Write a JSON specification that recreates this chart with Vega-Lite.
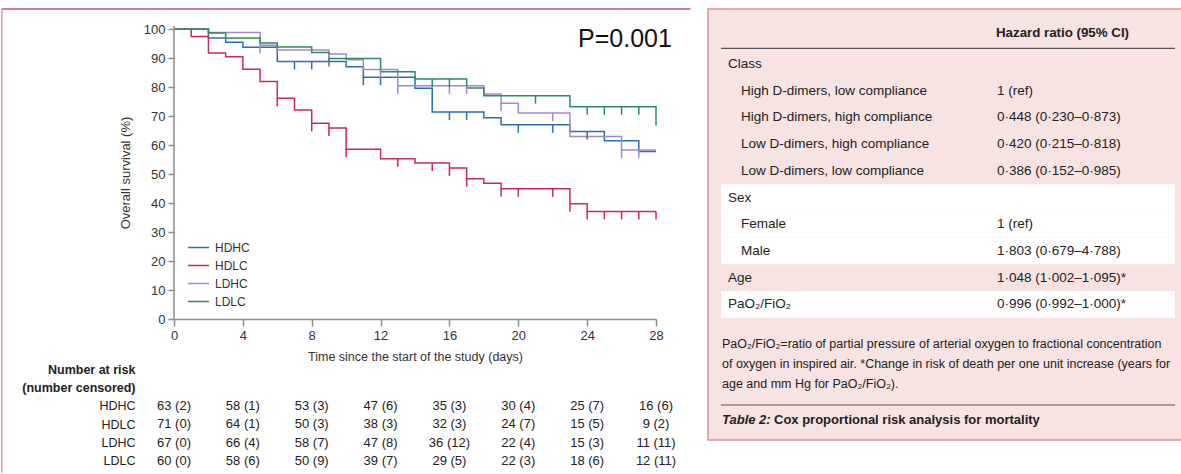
{
 "$schema": "https://vega.github.io/schema/vega-lite/v6.json",
 "padding": {"left": 1, "top": 8, "right": 0, "bottom": 0},
 "background": "white",
 "config": {
  "font": "Liberation Sans",
  "view": {"stroke": null},
  "axis": {"grid": false, "labelFlush": false, "labelOverlap": false, "labelColor": "#333", "titleColor": "#333", "domainColor": "#8c8c8c", "tickColor": "#8c8c8c", "domainWidth": 1.5, "tickWidth": 1.5, "labelFontSize": 13, "titleFontSize": 13, "titleFontWeight": "normal", "labelFont": "Liberation Sans", "titleFont": "Liberation Sans"},
  "legend": {"labelFont": "Liberation Sans"}
 },
 "datasets": {
  "km": [
   {"group":"HDHC","day":0,"surv":100},{"group":"HDHC","day":2,"surv":96.9},{"group":"HDHC","day":3,"surv":95.4},{"group":"HDHC","day":4,"surv":93.7},{"group":"HDHC","day":6,"surv":88.8},{"group":"HDHC","day":10,"surv":87.0},{"group":"HDHC","day":11,"surv":83.4},{"group":"HDHC","day":14,"surv":79.6},{"group":"HDHC","day":15,"surv":71.4},{"group":"HDHC","day":18,"surv":69.4},{"group":"HDHC","day":19,"surv":67.0},{"group":"HDHC","day":23,"surv":64.7},{"group":"HDHC","day":25,"surv":61.5},{"group":"HDHC","day":27,"surv":57.8},{"group":"HDHC","day":28,"surv":57.8},
   {"group":"HDLC","day":0,"surv":100},{"group":"HDLC","day":1,"surv":97.4},{"group":"HDLC","day":2,"surv":91.7},{"group":"HDLC","day":3,"surv":90.4},{"group":"HDLC","day":4,"surv":86.1},{"group":"HDLC","day":5,"surv":81.9},{"group":"HDLC","day":6,"surv":76.1},{"group":"HDLC","day":7,"surv":72.1},{"group":"HDLC","day":8,"surv":67.5},{"group":"HDLC","day":9,"surv":65.9},{"group":"HDLC","day":10,"surv":58.5},{"group":"HDLC","day":12,"surv":55.3},{"group":"HDLC","day":14,"surv":53.8},{"group":"HDLC","day":16,"surv":52.1},{"group":"HDLC","day":17,"surv":48.4},{"group":"HDLC","day":18,"surv":46.8},{"group":"HDLC","day":19,"surv":44.9},{"group":"HDLC","day":23,"surv":39.7},{"group":"HDLC","day":24,"surv":37.1},{"group":"HDLC","day":28,"surv":37.1},
   {"group":"LDHC","day":0,"surv":100},{"group":"LDHC","day":2,"surv":98.8},{"group":"LDHC","day":5,"surv":94.4},{"group":"LDHC","day":6,"surv":92.8},{"group":"LDHC","day":9,"surv":91.4},{"group":"LDHC","day":10,"surv":89.4},{"group":"LDHC","day":11,"surv":86.0},{"group":"LDHC","day":13,"surv":80.4},{"group":"LDHC","day":18,"surv":77.6},{"group":"LDHC","day":19,"surv":74.4},{"group":"LDHC","day":20,"surv":71.0},{"group":"LDHC","day":23,"surv":62.9},{"group":"LDHC","day":26,"surv":58.3},{"group":"LDHC","day":28,"surv":58.3},
   {"group":"LDLC","day":0,"surv":100},{"group":"LDLC","day":2,"surv":98.6},{"group":"LDLC","day":3,"surv":96.9},{"group":"LDLC","day":5,"surv":95.2},{"group":"LDLC","day":6,"surv":93.8},{"group":"LDLC","day":8,"surv":91.9},{"group":"LDLC","day":9,"surv":89.8},{"group":"LDLC","day":12,"surv":85.3},{"group":"LDLC","day":14,"surv":82.8},{"group":"LDLC","day":17,"surv":79.7},{"group":"LDLC","day":18,"surv":77.0},{"group":"LDLC","day":23,"surv":73.2},{"group":"LDLC","day":28,"surv":73.2},{"group":"LDLC","day":28,"surv":66.7}
  ],
  "censor": [
   {"group":"HDHC","day":7,"surv":88.8},{"group":"HDHC","day":8,"surv":88.8},{"group":"HDHC","day":11,"surv":83.4},{"group":"HDHC","day":12,"surv":83.4},{"group":"HDHC","day":16,"surv":71.4},{"group":"HDHC","day":17,"surv":71.4},{"group":"HDHC","day":20,"surv":67.0},{"group":"HDHC","day":22,"surv":67.0},{"group":"HDHC","day":24,"surv":64.7},
   {"group":"HDLC","day":6,"surv":76.1},{"group":"HDLC","day":8,"surv":67.5},{"group":"HDLC","day":9,"surv":65.9},{"group":"HDLC","day":10,"surv":58.5},{"group":"HDLC","day":13,"surv":55.3},{"group":"HDLC","day":15,"surv":53.8},{"group":"HDLC","day":16,"surv":52.1},{"group":"HDLC","day":17,"surv":48.4},{"group":"HDLC","day":19,"surv":44.9},{"group":"HDLC","day":20,"surv":44.9},{"group":"HDLC","day":22,"surv":44.9},{"group":"HDLC","day":23,"surv":39.7},{"group":"HDLC","day":24,"surv":37.1},{"group":"HDLC","day":25,"surv":37.1},{"group":"HDLC","day":26,"surv":37.1},{"group":"HDLC","day":27,"surv":37.1},{"group":"HDLC","day":28,"surv":37.1},
   {"group":"LDHC","day":5,"surv":94.4},{"group":"LDHC","day":9,"surv":91.4},{"group":"LDHC","day":12,"surv":86.0},{"group":"LDHC","day":13,"surv":80.4},{"group":"LDHC","day":16,"surv":80.4},{"group":"LDHC","day":17,"surv":80.4},{"group":"LDHC","day":19,"surv":74.4},{"group":"LDHC","day":22,"surv":71.0},{"group":"LDHC","day":26,"surv":58.3},{"group":"LDHC","day":27,"surv":58.3},
   {"group":"LDLC","day":9,"surv":89.8},{"group":"LDLC","day":15,"surv":82.8},{"group":"LDLC","day":16,"surv":82.8},{"group":"LDLC","day":21,"surv":77.0},{"group":"LDLC","day":24,"surv":73.2},{"group":"LDLC","day":25,"surv":73.2},{"group":"LDLC","day":26,"surv":73.2},{"group":"LDLC","day":27,"surv":73.2}
  ],
  "risk": [
   {"group":"HDHC","day":0,"risk":"63 (2)"},{"group":"HDHC","day":4,"risk":"58 (1)"},{"group":"HDHC","day":8,"risk":"53 (3)"},{"group":"HDHC","day":12,"risk":"47 (6)"},{"group":"HDHC","day":16,"risk":"35 (3)"},{"group":"HDHC","day":20,"risk":"30 (4)"},{"group":"HDHC","day":24,"risk":"25 (7)"},{"group":"HDHC","day":28,"risk":"16 (6)"},
   {"group":"HDLC","day":0,"risk":"71 (0)"},{"group":"HDLC","day":4,"risk":"64 (1)"},{"group":"HDLC","day":8,"risk":"50 (3)"},{"group":"HDLC","day":12,"risk":"38 (3)"},{"group":"HDLC","day":16,"risk":"32 (3)"},{"group":"HDLC","day":20,"risk":"24 (7)"},{"group":"HDLC","day":24,"risk":"15 (5)"},{"group":"HDLC","day":28,"risk":"9 (2)"},
   {"group":"LDHC","day":0,"risk":"67 (0)"},{"group":"LDHC","day":4,"risk":"66 (4)"},{"group":"LDHC","day":8,"risk":"58 (7)"},{"group":"LDHC","day":12,"risk":"47 (8)"},{"group":"LDHC","day":16,"risk":"36 (12)"},{"group":"LDHC","day":20,"risk":"22 (4)"},{"group":"LDHC","day":24,"risk":"15 (3)"},{"group":"LDHC","day":28,"risk":"11 (11)"},
   {"group":"LDLC","day":0,"risk":"60 (0)"},{"group":"LDLC","day":4,"risk":"58 (6)"},{"group":"LDLC","day":8,"risk":"50 (9)"},{"group":"LDLC","day":12,"risk":"39 (7)"},{"group":"LDLC","day":16,"risk":"29 (5)"},{"group":"LDLC","day":20,"risk":"22 (3)"},{"group":"LDLC","day":24,"risk":"18 (6)"},{"group":"LDLC","day":28,"risk":"12 (11)"}
  ],
  "hr": [
   {"group":"Class","item":"Class","level":"group","hr":""},
   {"group":"Class","item":"High D-dimers, low compliance","level":"item","hr":"1 (ref)"},
   {"group":"Class","item":"High D-dimers, high compliance","level":"item","hr":"0·448 (0·230–0·873)"},
   {"group":"Class","item":"Low D-dimers, high compliance","level":"item","hr":"0·420 (0·215–0·818)"},
   {"group":"Class","item":"Low D-dimers, low compliance","level":"item","hr":"0·386 (0·152–0·985)"},
   {"group":"Sex","item":"Sex","level":"group","hr":""},
   {"group":"Sex","item":"Female","level":"item","hr":"1 (ref)"},
   {"group":"Sex","item":"Male","level":"item","hr":"1·803 (0·679–4·788)"},
   {"group":"Age","item":"Age","level":"group","hr":"1·048 (1·002–1·095)*"},
   {"group":"PaO2","item":"PaO₂/FiO₂","level":"group","hr":"0·996 (0·992–1·000)*"}
  ],
  "notes": [
   {"part":"header","text":"Hazard ratio (95% CI)"},
   {"part":"footnote","text":"PaO₂/FiO₂=ratio of partial pressure of arterial oxygen to fractional concentration\nof oxygen in inspired air. *Change in risk of death per one unit increase (years for\nage and mm Hg for PaO₂/FiO₂)."},
   {"part":"caption","text":"Table 2:"},
   {"part":"title","text":"Cox proportional risk analysis for mortality"}
  ]
 },
 "spacing": 15,
 "hconcat": [
  {
   "bounds": "flush",
   "spacing": 41,
   "vconcat": [
    {
     "width": 482,
     "height": 310,
     "layer": [
      {
       "data": {"name": "km"},
       "mark": {"type": "line", "interpolate": "step-after", "strokeWidth": 1.5},
       "encoding": {
        "x": {"field": "day", "type": "quantitative", "scale": {"domain": [0, 28], "nice": false},
              "axis": {"values": [0,4,8,12,16,20,24,28], "labelOverlap": false, "tickSize": 7, "labelPadding": 3, "title": "Time since the start of the study (days)", "titlePadding": 8, "titleFontSize": 12.5}},
        "y": {"field": "surv", "type": "quantitative", "scale": {"domain": [0, 106.9], "nice": false},
              "axis": {"values": [0,10,20,30,40,50,60,70,80,90,100], "tickCount": 11, "labelOverlap": false, "domain": false, "tickSize": 6, "labelPadding": 3, "title": "Overall survival (%)", "titlePadding": 11, "titleY": 163.5}},
        "color": {"field": "group", "type": "nominal",
                  "scale": {"domain": ["HDHC","HDLC","LDHC","LDLC"], "range": ["#2d6db3","#c42c58","#a08ac8","#2f8b5d"]},
                  "legend": {"orient": "none", "legendX": 13, "legendY": 227, "title": null, "symbolType": "stroke", "symbolSize": 441, "symbolStrokeWidth": 1.5, "labelFontSize": 12, "labelColor": "#333", "rowPadding": -3, "labelOffset": 5, "padding": 0}},
        "order": {"field": "day", "type": "quantitative"}
       }
      },
      {
       "data": {"name": "censor"},
       "mark": {"type": "tick", "orient": "vertical", "size": 8, "thickness": 1.5, "yOffset": 4, "opacity": 1},
       "encoding": {
        "x": {"field": "day", "type": "quantitative", "scale": {"domain": [0, 28], "nice": false}},
        "y": {"field": "surv", "type": "quantitative", "scale": {"domain": [0, 106.9], "nice": false}},
        "color": {"field": "group", "type": "nominal", "legend": null}
       }
      },
      {
       "data": {"values": [{}]},
       "mark": {"type": "rule", "color": "#8c8c8c", "strokeWidth": 1.5},
       "encoding": {"x": {"datum": 0, "type": "quantitative"}, "y": {"datum": 0, "type": "quantitative"}, "y2": {"datum": 101}}
      },
      {
       "data": {"values": [{}]},
       "mark": {"type": "rule", "color": "#cf4d72", "strokeWidth": 1.5},
       "encoding": {"x": {"datum": -10, "type": "quantitative"}, "x2": {"datum": 30}, "y": {"datum": 106.9, "type": "quantitative"}}
      },
      {
       "data": {"values": [{}]},
       "mark": {"type": "rule", "color": "#e39ab0", "strokeWidth": 1.5},
       "encoding": {"x": {"datum": -10, "type": "quantitative"}, "y": {"datum": 106.9, "type": "quantitative"}, "y2": {"datum": -53}}
      },
      {
       "data": {"values": [{}]},
       "mark": {"type": "text", "fontSize": 25, "align": "center", "baseline": "alphabetic", "color": "#111"},
       "encoding": {"x": {"datum": 26.2, "type": "quantitative"}, "y": {"datum": 93.9, "type": "quantitative"}, "text": {"value": "P=0.001"}}
      }
     ]
    },
    {
     "width": 482,
     "height": 110,
     "data": {"name": "risk"},
     "mark": {"type": "text", "fontSize": 13, "align": "center", "baseline": "middle", "color": "#222"},
     "encoding": {
      "x": {"field": "day", "type": "quantitative", "scale": {"domain": [0, 28], "nice": false}, "axis": null},
      "y": {"field": "group", "type": "nominal",
            "scale": {"domain": ["Number at risk", "(number censored)", "HDHC", "HDLC", "LDHC", "LDLC"], "paddingInner": 0, "paddingOuter": 0},
            "axis": {"domain": false, "ticks": false, "title": null, "labelPadding": 39, "labelFontSize": 12.5, "labelColor": "#222",
                     "labelFontWeight": {"condition": {"test": "datum.value === 'Number at risk' || datum.value === '(number censored)'", "value": "bold"}, "value": "normal"}}},
      "text": {"field": "risk"}
     }
    }
   ]
  },
  {
   "width": 474,
   "height": 431,
   "view": {"fill": "#f7e3e1", "stroke": "#db8fa2", "strokeWidth": 1.5},
   "resolve": {"scale": {"x": "independent", "y": "independent"}},
   "layer": [
    {
     "data": {"name": "hr"},
     "encoding": {
      "y": {"field": "item", "type": "nominal",
            "scale": {"type": "band", "domain": ["Class", "High D-dimers, low compliance", "High D-dimers, high compliance", "Low D-dimers, high compliance", "Low D-dimers, low compliance", "Sex", "Female", "Male", "Age", "PaO₂/FiO₂"], "range": [41.65, 308.65], "paddingInner": 0, "paddingOuter": 0},
            "axis": null}
     },
     "resolve": {"scale": {"x": "independent"}},
     "layer": [
      {
       "transform": [{"filter": "datum.group === 'Sex' || datum.group === 'PaO2'"}],
       "mark": {"type": "rect", "color": "#ffffff"},
       "encoding": {
        "x": {"datum": 0, "type": "quantitative", "scale": {"domain": [0, 1], "range": [13, 467], "nice": false, "zero": false}, "axis": null},
        "x2": {"datum": 1}
       }
      },
      {
       "mark": {"type": "text", "align": "left", "baseline": "middle", "fontSize": 13.5, "color": "#222"},
       "encoding": {
        "x": {"field": "level", "type": "nominal", "scale": {"type": "point", "domain": ["group", "item"], "range": [20, 33], "padding": 0}, "axis": null},
        "text": {"field": "item"}
       }
      },
      {
       "mark": {"type": "text", "align": "left", "baseline": "middle", "fontSize": 13.5, "color": "#222"},
       "encoding": {
        "x": {"datum": "hr", "type": "nominal", "scale": {"type": "point", "domain": ["hr"], "range": [289, 289], "padding": 0}, "axis": null},
        "text": {"field": "hr"}
       }
      }
     ]
    },
    {
     "data": {"name": "notes"},
     "transform": [{"filter": "datum.part === 'header'"}],
     "encoding": {
      "y": {"field": "part", "type": "nominal", "scale": {"type": "point", "domain": ["header", "hrule"], "range": [24, 39.3], "padding": 0}, "axis": null}
     },
     "resolve": {"scale": {"x": "independent"}},
     "layer": [
      {
       "mark": {"type": "text", "align": "left", "baseline": "middle", "fontSize": 13.3, "fontWeight": "bold", "color": "#222"},
       "encoding": {
        "x": {"datum": "hr", "type": "nominal", "scale": {"type": "point", "domain": ["hr"], "range": [288, 288], "padding": 0}, "axis": null},
        "text": {"field": "text"}
       }
      },
      {
       "mark": {"type": "rule", "color": "#555", "strokeWidth": 1.2},
       "encoding": {
        "x": {"datum": 0, "type": "quantitative", "scale": {"domain": [0, 1], "range": [13, 467], "nice": false, "zero": false}, "axis": null},
        "x2": {"datum": 1},
        "y": {"datum": "hrule", "type": "nominal"}
       }
      }
     ]
    },
    {
     "data": {"name": "notes"},
     "transform": [{"filter": "datum.part === 'footnote'"}],
     "mark": {"type": "text", "align": "left", "baseline": "middle", "fontSize": 12.5, "color": "#222", "lineBreak": "\n", "lineHeight": 20},
     "encoding": {
      "x": {"field": "part", "type": "nominal", "scale": {"type": "point", "domain": ["footnote"], "range": [14, 14], "padding": 0}, "axis": null},
      "y": {"field": "part", "type": "nominal", "scale": {"type": "point", "domain": ["footnote"], "range": [335, 335], "padding": 0}, "axis": null},
      "text": {"field": "text"}
     }
    },
    {
     "data": {"name": "notes"},
     "transform": [{"filter": "datum.part === 'caption' || datum.part === 'title'"}],
     "encoding": {
      "y": {"datum": "caption", "type": "nominal", "scale": {"type": "point", "domain": ["crule", "caption"], "range": [396, 411], "padding": 0}, "axis": null}
     },
     "resolve": {"scale": {"x": "independent"}},
     "layer": [
      {
       "encoding": {
        "x": {"field": "part", "type": "nominal", "scale": {"type": "point", "domain": ["caption", "title"], "range": [14, 66], "padding": 0}, "axis": null}
       },
       "layer": [
        {
         "transform": [{"filter": "datum.part === 'caption'"}],
         "mark": {"type": "text", "align": "left", "baseline": "middle", "fontSize": 13, "fontWeight": "bold", "fontStyle": "italic", "color": "#222"},
         "encoding": {"text": {"field": "text"}}
        },
        {
         "transform": [{"filter": "datum.part === 'title'"}],
         "mark": {"type": "text", "align": "left", "baseline": "middle", "fontSize": 13, "fontWeight": "bold", "color": "#222"},
         "encoding": {"text": {"field": "text"}}
        }
       ]
      },
      {
       "transform": [{"filter": "datum.part === 'title'"}],
       "mark": {"type": "rule", "color": "#555", "strokeWidth": 1.2},
       "encoding": {
        "x": {"datum": 0, "type": "quantitative", "scale": {"domain": [0, 1], "range": [13, 467], "nice": false, "zero": false}, "axis": null},
        "x2": {"datum": 1},
        "y": {"datum": "crule", "type": "nominal"}
       }
      }
     ]
    }
   ]
  }
 ]
}
